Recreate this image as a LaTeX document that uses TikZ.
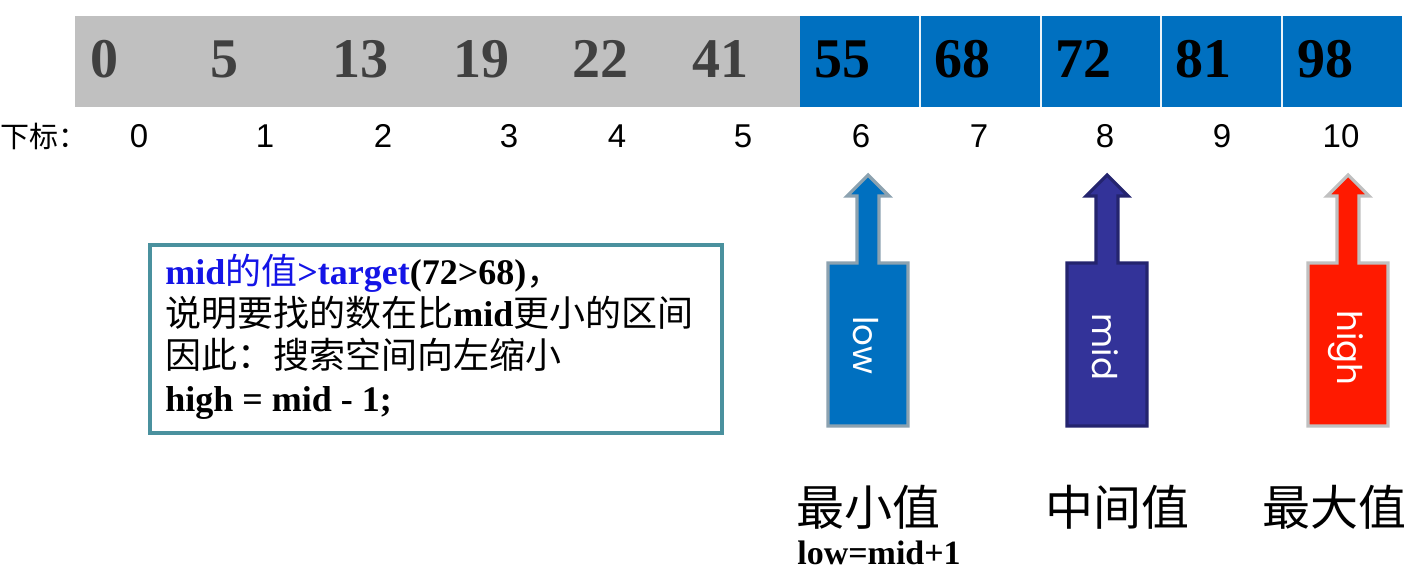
\documentclass[tikz,border=0pt]{standalone}
\usepackage{fontspec}
\setmainfont{Liberation Serif}
\newfontfamily\cjk{Noto Sans CJK SC}
\newfontfamily\arialf{Liberation Sans}
\newfontfamily\gothic{Poppins}
\definecolor{bargray}{RGB}{192,192,192}
\definecolor{numgray}{RGB}{64,64,64}
\definecolor{cellblue}{RGB}{0,112,192}
\definecolor{lowedge}{RGB}{140,162,176}
\definecolor{midfill}{RGB}{51,51,153}
\definecolor{midedge}{RGB}{36,36,110}
\definecolor{highfill}{RGB}{255,26,0}
\definecolor{highedge}{RGB}{192,192,192}
\definecolor{boxedge}{RGB}{74,145,158}
\definecolor{txtblue}{RGB}{20,20,230}
\tikzset{
  cellnum/.style={anchor=base, inner sep=0pt, font=\fontsize{28pt}{28pt}\selectfont\bfseries},
  idx/.style={anchor=base, inner sep=0pt, font=\fontsize{16.5pt}{16.5pt}\arialf},
  boxline/.style={anchor=base west, inner sep=0pt, font=\fontsize{18pt}{18pt}\selectfont},
  arrowshape/.style={line width=1.6pt, line join=miter},
  rotlbl/.style={rotate=-90, inner sep=0pt, text=white, font=\fontsize{17pt}{17pt}\gothic},
  bottomlbl/.style={inner sep=0pt, font=\fontsize{24pt}{24pt}\cjk},
}
\begin{document}
\begin{tikzpicture}[x=0.5pt,y=-0.5pt]
\useasboundingbox (0,0) rectangle (1416,579);
% array bar
\fill[bargray] (75,16) rectangle (800,107);
\fill[cellblue] (800,16) rectangle (1402,107);
\foreach \sx in {920,1041,1161,1282}
  \draw[white!92!cellblue, line width=1.2pt] (\sx,16) -- (\sx,107);
% numbers
\foreach \v/\x [count=\i from 0] in {0/104,5/224,13/360,19/481,22/600,41/720}
  \node[cellnum, text=numgray] (v\i) at (\x,77) {\v};
\foreach \v/\x [count=\i from 6] in {55/842,68/962,72/1083,81/1203,98/1325}
  \node[cellnum, text=black] (v\i) at (\x,77) {\v};
% indices
\node[anchor=base west, inner sep=0pt, font=\fontsize{14.5pt}{14.5pt}\cjk] (xb) at (0,147) {下标：};
\foreach \x [count=\i from 0] in {139,265,383,509,617,743,861,979,1105,1222,1341}
  \node[idx] (i\i) at (\x,147) {\i};
% explanation box
\node[draw=boxedge, line width=1.8pt, inner sep=0pt, anchor=north west,
      minimum width=286pt, minimum height=94pt] (box) at (148,243) {};
\node[boxline] (l1) at (165,284) {\textcolor{txtblue}{\textbf{mid}{\cjk\mdseries 的值}\textbf{>target}}\textbf{(72>68)}{\cjk ，}};
\node[boxline] (l2) at (165,326) {{\cjk 说明要找的数在比}\textbf{mid}{\cjk 更小的区间}};
\node[boxline] (l3) at (165,368) {{\cjk 因此：搜索空间向左缩小}};
\node[boxline] (l4) at (165,411) {\textbf{high = mid - 1;}};
% arrows
\draw[arrowshape, fill=cellblue, draw=lowedge] (868,175) -- ++(21,21) -- ++(-10,0) -- ++(0,67) -- ++(29,0) -- ++(0,163) -- ++(-80,0) -- ++(0,-163) -- ++(29,0) -- ++(0,-67) -- ++(-10,0) -- cycle;
\draw[arrowshape, fill=midfill, draw=midedge] (1107,175) -- ++(21,21) -- ++(-10,0) -- ++(0,67) -- ++(29,0) -- ++(0,163) -- ++(-80,0) -- ++(0,-163) -- ++(29,0) -- ++(0,-67) -- ++(-10,0) -- cycle;
\draw[arrowshape, fill=highfill, draw=highedge] (1348,175) -- ++(21,21) -- ++(-10,0) -- ++(0,67) -- ++(29,0) -- ++(0,163) -- ++(-80,0) -- ++(0,-163) -- ++(29,0) -- ++(0,-67) -- ++(-10,0) -- cycle;
\node[rotlbl] (lowlbl) at (866,345) {low};
\node[rotlbl] (midlbl) at (1105,347) {mid};
\node[rotlbl] (highlbl) at (1346,348) {high};
% bottom labels
\node[bottomlbl] (minv) at (868,507) {最小值};
\node[bottomlbl] (midv) at (1117,507) {中间值};
\node[bottomlbl] (maxv) at (1334,507) {最大值};
\node[inner sep=0pt, font=\fontsize{17pt}{17pt}\selectfont\bfseries] (lowupd) at (879,553) {low=mid+1};
\end{tikzpicture}
\end{document}
